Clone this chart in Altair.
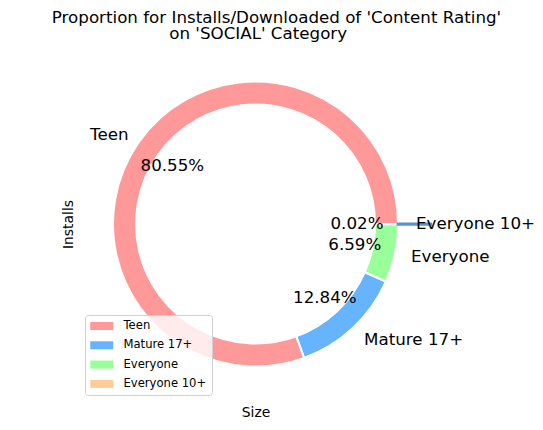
import math
import altair as alt
import pandas as pd

# ---- data ----
ratings = ["Teen", "Mature 17+", "Everyone", "Everyone 10+"]
shares = [80.55, 12.84, 6.59, 0.02]
colors = ["#ff9999", "#66b3ff", "#99ff99", "#ffcc99"]
title_line1 = "Proportion for Installs/Downloaded of 'Content Rating'"
title_line2 = "on 'SOCIAL' Category" + "\u2800" * 3
x_title = "Size"
y_title = "Installs"

df = pd.DataFrame({"rating": ratings, "share": shares, "idx": list(range(len(ratings)))})

FONT = "DejaVu Sans"
R = 141.5
total = sum(shares)

theta_scale = alt.Scale(domain=[0, total], range=[2.5 * math.pi, 0.5 * math.pi])

base = alt.Chart(df).transform_window(
    cum="sum(share)", sort=[alt.SortField("idx")], frame=[None, 0]
).transform_calculate(
    start="datum.cum - datum.share",
    mid="datum.cum - datum.share / 2",
    pct="format(datum.share, '.2f') + '%'",
)

ring = base.mark_arc(radius=R + 1, radius2=R - 22, stroke="white", strokeWidth=2).encode(
    theta=alt.Theta("start:Q", scale=theta_scale),
    theta2="cum:Q",
    color=alt.Color(
        "rating:N",
        scale=alt.Scale(domain=ratings, range=colors),
        legend=alt.Legend(
            title=None, orient="none", legendX=6, legendY=267.5, direction="vertical",
            symbolType="M-2,-0.7H2V0.7H-2Z", symbolSize=132, symbolStrokeWidth=0,
            symbolOpacity=1, symbolOffset=5.75, labelOffset=15.75,
            labelFont=FONT, labelFontSize=11.6, labelColor="black",
            strokeColor="#d0d0d0", fillColor="rgba(255,255,255,0.8)",
            cornerRadius=3, padding=5, rowPadding=7.3,
        ),
    ),
    order=alt.Order("idx:Q"),
)

explode = base.transform_filter(alt.datum.rating == "Everyone 10+").mark_arc(
    radius=175, radius2=142.5, fill="#5597cb", stroke="#5597cb", strokeWidth=3
).encode(theta=alt.Theta("start:Q", scale=theta_scale), theta2="cum:Q")

label_left = base.transform_filter(alt.datum.rating == "Teen").mark_text(
    radius=155, align="right", baseline="middle", font=FONT, fontSize=16.7, color="black"
).encode(theta=alt.Theta("mid:Q", scale=theta_scale), text="rating:N")

label_right = base.transform_filter(
    (alt.datum.rating != "Teen") & (alt.datum.rating != "Everyone 10+")
).mark_text(
    radius=159, align="left", baseline="middle", font=FONT, fontSize=16.7, color="black"
).encode(theta=alt.Theta("mid:Q", scale=theta_scale), text="rating:N")

label_small = base.transform_filter(alt.datum.rating == "Everyone 10+").mark_text(
    radius=160.5, align="left", baseline="middle", font=FONT, fontSize=16.7, color="black"
).encode(theta=alt.Theta("mid:Q", scale=theta_scale), text="rating:N")

pct = base.mark_text(
    radius=101.5, align="center", baseline="middle", font=FONT, fontSize=16.7, color="black"
).encode(theta=alt.Theta("mid:Q", scale=theta_scale), text="pct:N")

axis_common = dict(labels=False, ticks=False, domain=False, grid=False,
                   titleFont=FONT, titleFontSize=13.9, titleFontWeight="normal",
                   titleColor="black")
axes = alt.Chart(df).mark_point(opacity=0).encode(
    x=alt.X("share:Q", axis=alt.Axis(title=x_title, titlePadding=5, **axis_common)),
    y=alt.Y("share:Q", axis=alt.Axis(title=y_title, titlePadding=3.5, **axis_common)),
)

chart = alt.layer(axes, ring, explode, label_left, label_right, label_small, pct).properties(
    width=353,
    height=353,
    title=alt.TitleParams(
        text=title_line1, subtitle=title_line2, font=FONT, fontSize=16.7,
        fontWeight="normal", color="black", anchor="middle", offset=5, dx=21,
        subtitleFont=FONT, subtitleFontSize=16.7, subtitleColor="black",
        subtitleFontWeight="normal", subtitlePadding=-1,
    ),
    autosize=alt.AutoSizeParams(type="none"),
    padding={"left": 79, "top": 47.5, "right": 111, "bottom": 29.5},
    background="white",
).configure_view(stroke=None)

chart.save("out.html", embed_options={"renderer": "svg", "actions": False})
